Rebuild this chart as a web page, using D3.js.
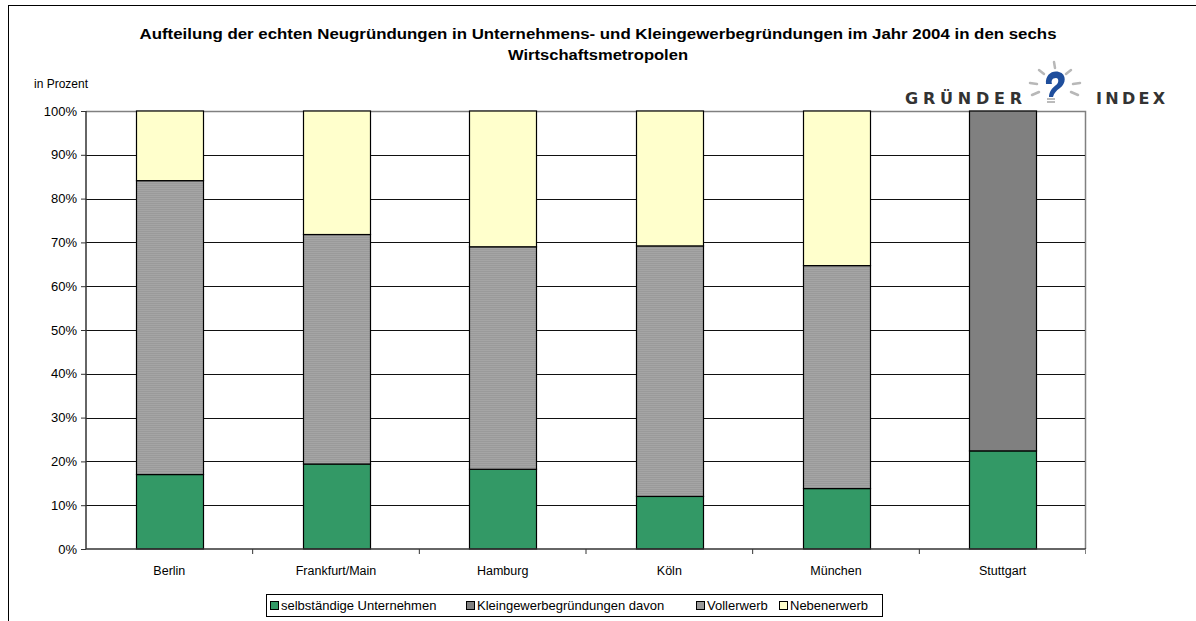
<!DOCTYPE html>
<html><head><meta charset="utf-8">
<script src="https://cdn.jsdelivr.net/npm/d3@7"></script>
<style>
body{margin:0;background:#fff;}
svg{display:block;font-family:"Liberation Sans",Arial,sans-serif;}
</style></head>
<body>
<svg id="c" width="1196" height="621"></svg>
<script>
const categories = ["Berlin","Frankfurt/Main","Hamburg","Köln","München","Stuttgart"];
const seriesNames = ["selbständige Unternehmen","Kleingewerbegründungen davon","Vollerwerb","Nebenerwerb"];
const selbstaendig = [17.0, 19.4, 18.2, 12.0, 13.8, 22.4];
const kleingewerbe = [0, 0, 0, 0, 0, 77.6];
const vollerwerb  = [67.1, 52.4, 50.8, 57.2, 50.9, 0];
const nebenerwerb = [15.9, 28.2, 31.0, 30.8, 35.3, 0];
const yTicks = [0,10,20,30,40,50,60,70,80,90,100];
const titleLines = ["Aufteilung der echten Neugründungen in Unternehmens- und Kleingewerbegründungen im Jahr 2004 in den sechs","Wirtschaftsmetropolen"];

const colors = ["#339966","#808080","url(#hatch)","#FFFFCC"];
const legendColors = ["#339966","#808080","#999999","#FFFFCC"];

const svg = d3.select("#c");
const defs = svg.append("defs");
const pat = defs.append("pattern").attr("id","hatch").attr("patternUnits","userSpaceOnUse").attr("width",4).attr("height",2);
pat.append("rect").attr("width",4).attr("height",2).attr("fill","#9a9a9a");
pat.append("rect").attr("width",4).attr("height",1).attr("fill","#a5a5a5");

// outer frame
svg.append("rect").attr("x",8.5).attr("y",5.5).attr("width",1200).attr("height",640)
  .attr("fill","none").attr("stroke","#000").attr("stroke-width",1);

const L=86, R=1086, T=111, B=549;
const x = d3.scaleBand().domain(categories).range([L,R]).paddingInner(0.6).paddingOuter(0.3);
const xb = d3.scaleBand().domain(categories).range([L,R]);
const y = d3.scaleLinear().domain([0,100]).range([B,T]);

// title
const titleW = [917, 180];
titleLines.forEach((t,i)=>{
  svg.append("text").attr("x",598).attr("y",39+i*21).attr("text-anchor","middle")
    .attr("font-weight","bold").attr("font-size",15.5).attr("fill","#000")
    .attr("textLength",titleW[i]).attr("lengthAdjust","spacingAndGlyphs").text(t);
});

svg.append("text").attr("x",34).attr("y",88).attr("font-size",12).text("in Prozent");

// plot border (grey top/right)
svg.append("path").attr("d",`M${L},${T+0.5}H${R-0.5}V${B}`).attr("fill","none").attr("stroke","#808080").attr("stroke-width",1.5);

// gridlines
svg.append("g").selectAll("line").data(yTicks.filter(t=>t>0&&t<100)).join("line")
  .attr("x1",L).attr("x2",R-1).attr("y1",d=>Math.round(y(d))+0.5).attr("y2",d=>Math.round(y(d))+0.5)
  .attr("stroke","#111").attr("stroke-width",1);

// stacks
const data = categories.map((c,i)=>({cat:c, s0:selbstaendig[i], s1:kleingewerbe[i], s2:vollerwerb[i], s3:nebenerwerb[i]}));
const stack = d3.stack().keys(["s0","s1","s2","s3"])(data);
const gBars = svg.append("g");
stack.forEach((layer,k)=>{
  gBars.selectAll(null).data(layer.filter(d=>d[1]-d[0]>0)).join("rect")
    .attr("x",d=>Math.round(x(d.data.cat))+0.5)
    .attr("width",Math.round(x.bandwidth()))
    .attr("y",d=>y(d[1]))
    .attr("height",d=>y(d[0])-y(d[1]))
    .attr("fill",colors[k]).attr("stroke","#000").attr("stroke-width",1.2);
});

// y axis
const yAxis = d3.axisLeft(y).tickValues(yTicks).tickFormat(d=>d+"%").tickSize(5).tickPadding(4);
const gy = svg.append("g").attr("transform",`translate(${L},0)`).call(yAxis);
gy.select(".domain").attr("stroke","#333").attr("stroke-width",1.5).attr("d",`M0,${T}V${B}`);
gy.selectAll(".tick line").attr("stroke","#333");
gy.selectAll(".tick text").attr("font-size",13).attr("fill","#000").attr("font-family","Liberation Sans, Arial, sans-serif");

// x axis
const gx = svg.append("g").attr("transform",`translate(0,${B})`);
gx.append("line").attr("x1",L).attr("x2",R).attr("y1",0).attr("y2",0).attr("stroke","#333").attr("stroke-width",1.5);
gx.selectAll("line.t").data(categories.slice(1)).join("line").attr("class","t")
  .attr("x1",d=>xb(d)).attr("x2",d=>xb(d)).attr("y1",0).attr("y2",5).attr("stroke","#333");
gx.append("line").attr("x1",R-0.5).attr("x2",R-0.5).attr("y1",0).attr("y2",5).attr("stroke","#808080");
gx.selectAll("text").data(categories).join("text")
  .attr("x",d=>xb(d)+xb.bandwidth()/2).attr("y",26).attr("text-anchor","middle")
  .attr("font-size",12.5).text(d=>d);

// legend
const lg = svg.append("g");
lg.append("rect").attr("x",266.5).attr("y",594.5).attr("width",616).attr("height",22).attr("fill","#fff").attr("stroke","#000");
const legX = [270, 466, 696, 779];
seriesNames.forEach((n,i)=>{
  lg.append("rect").attr("x",legX[i]+0.5).attr("y",601.5).attr("width",8).attr("height",8).attr("fill",legendColors[i]).attr("stroke","#000");
  lg.append("text").attr("x",legX[i]+11).attr("y",610).attr("font-size",13).text(n);
});

// logo
const logo = svg.append("g").attr("font-family","DejaVu Sans, Verdana, sans-serif");
logo.append("text").attr("x",905).attr("y",104).attr("font-size",16).attr("font-weight","bold")
  .attr("textLength",117).attr("lengthAdjust","spacing").attr("fill","#333").text("GRÜNDER");
logo.append("text").attr("x",1096).attr("y",104).attr("font-size",16).attr("font-weight","bold")
  .attr("textLength",69).attr("lengthAdjust","spacing").attr("fill","#333").text("INDEX");
const rays = [[1054,62,1055,68],[1039,70,1044,74],[1030,83,1037,84],[1032,95,1039,92],[1071,70,1066,74],[1080,83,1073,84],[1078,95,1071,92]];
logo.selectAll("line.r").data(rays).join("line").attr("class","r")
  .attr("x1",d=>d[0]).attr("y1",d=>d[1]).attr("x2",d=>d[2]).attr("y2",d=>d[3])
  .attr("stroke","#b8b8b8").attr("stroke-width",2.5).attr("stroke-linecap","round");
logo.append("path").attr("d","M1046,84 C1045,75 1052,70 1059,72 C1067,74 1066,84 1060,88 C1056,91 1054,93 1053,97 L1049,97 C1049,92 1052,88 1056,85 C1059,83 1059,78 1056,78 C1052,78 1051,81 1052,84 Z")
  .attr("fill","#1f4e9c");
logo.append("rect").attr("x",1047).attr("y",98).attr("width",8).attr("height",2).attr("fill","#bbb");
logo.append("rect").attr("x",1047).attr("y",101).attr("width",8).attr("height",2).attr("fill","#bbb");
</script>
</body></html>
